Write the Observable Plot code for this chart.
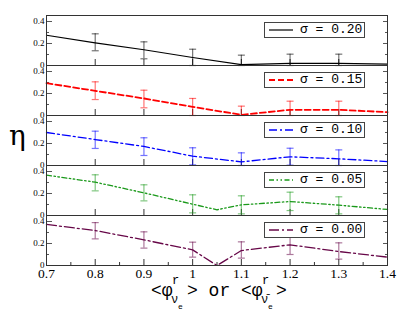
<!DOCTYPE html>
<html><head><meta charset="utf-8">
<script src="https://cdn.jsdelivr.net/npm/d3@7"></script>
<script src="https://cdn.jsdelivr.net/npm/@observablehq/plot@0.6"></script>
<style>
body{margin:0;background:#fff;}
#wrap{position:relative;width:403px;height:312px;overflow:hidden;background:#fff;}
svg.mainplot text{font-family:"Liberation Serif","Times New Roman",serif !important;}
.leg{position:absolute;left:264px;width:99px;height:14px;border:1px solid #444;background:#fff;}
.leg svg{position:absolute;left:0;top:0;}
.leg span{position:absolute;left:35px;top:0px;font:13px "Liberation Mono",monospace;line-height:14px;color:#000;white-space:pre;}
#eta{position:absolute;left:9px;top:119px;font:28px "DejaVu Serif",serif;color:#000;}
#xlab{position:absolute;left:0;top:0;pointer-events:none;}
</style></head><body><div id="wrap"></div>
<script>
const sigmas = ["0.20","0.15","0.10","0.05","0.00"];
const colors = ["#000000","#ff0000","#0000ff","#1a991a","#670748"];
const dashes = [null,"6,3","8,3,2,3","5,2.5,1.5,2.5,1.5,2.5","10,3,2,3"];
const widths = [1.2,1.8,1.3,1.3,1.3];

const xA = [0.7,0.8,0.9,1.0,1.1,1.2,1.3,1.4];
const xB = [0.7,0.8,0.9,1.0,1.05,1.1,1.2,1.3,1.4];

const eta020 = [0.275,0.206,0.143,0.073,0.008,0.02,0.02,0.012];
const eta015 = [0.294,0.224,0.155,0.079,0.006,0.052,0.052,0.03];
const eta010 = [0.30,0.236,0.173,0.085,0.033,0.079,0.061,0.036];
const eta005 = [0.367,0.303,0.206,0.103,0.052,0.097,0.127,0.094,0.055];
const eta000 = [0.373,0.318,0.233,0.142,0.0,0.136,0.188,0.127,0.076];

const errX = [0.8,0.9,1.0,1.1,1.2,1.3];
const hi020 = [0.288,0.215,0.148,0.094,0.103,0.103];
const lo020 = [0.134,0.061,0,0,0,0];
const hi015 = [0.306,0.23,0.155,0.085,0.13,0.13];
const lo015 = [0.145,0.07,0,0,0,0];
const hi010 = [0.312,0.252,0.161,0.115,0.157,0.142];
const lo010 = [0.155,0.091,0.006,0,0.003,0];
const hi005 = [0.37,0.279,0.188,0.179,0.212,0.17];
const lo005 = [0.224,0.133,0.024,0.015,0.045,0.015];
const hi000 = [0.39,0.306,0.212,0.215,0.27,0.206];
const lo000 = [0.242,0.158,0.076,0.067,0.1,0.058];

const xMajor = [0.7,0.8,0.9,1,1.1,1.2,1.3,1.4];
const xMinor = [0.75,0.85,0.95,1.05,1.15,1.25,1.35];
const yMajor = [0,0.2,0.4];
const yTicksMajor = [0.2,0.4];
const yTicksMinor = [0.1,0.3];

const series = [
  {x: xA, eta: eta020, lo: lo020, hi: hi020},
  {x: xA, eta: eta015, lo: lo015, hi: hi015},
  {x: xA, eta: eta010, lo: lo010, hi: hi010},
  {x: xB, eta: eta005, lo: lo005, hi: hi005},
  {x: xB, eta: eta000, lo: lo000, hi: hi000}
];

const capSymbol = {draw(ctx){ ctx.moveTo(-3.5,0); ctx.lineTo(3.5,0); }};
const serif = "Liberation Serif";

const marks = [];
series.forEach((s, i) => {
  const sig = sigmas[i];
  const line = s.x.map((x, j) => ({sigma: sig, x, eta: s.eta[j]}));
  const bars = errX.map((x, j) => ({sigma: sig, x, lo: s.lo[j], hi: s.hi[j]}));
  const caps = bars.flatMap(b => [{sigma: sig, x: b.x, y: b.lo}, {sigma: sig, x: b.x, y: b.hi}]);
  marks.push(Plot.ruleX(bars, {x: "x", y1: "lo", y2: "hi", fy: "sigma", stroke: colors[i], strokeOpacity: 0.55, strokeWidth: 1.2}));
  marks.push(Plot.dot(caps, {x: "x", y: "y", fy: "sigma", symbol: capSymbol, stroke: colors[i], strokeOpacity: 0.55, strokeWidth: 1.2, fill: "none"}));
  marks.push(Plot.line(line, {x: "x", y: "eta", fy: "sigma", stroke: colors[i], strokeWidth: widths[i], strokeDasharray: dashes[i] || undefined}));
});

const chart = Plot.plot({
  width: 403, height: 312,
  marginLeft: 46, marginRight: 16, marginTop: 15, marginBottom: 47,
  x: {domain: [0.7, 1.4]},
  y: {domain: [0, 0.4545]},
  fy: {domain: sigmas, padding: 0, axis: null},
  style: {background: "white", fontFamily: serif, color: "#000"},
  marks: [
    Plot.axisY({ticks: yMajor, tickSize: 0, tickPadding: 2, fontSize: 9, fontFamily: serif, tickFormat: d => d === 0 ? "0" : d.toFixed(1), label: null}),
    Plot.axisY({ticks: yTicksMajor, tickSize: -6, fill: "none", label: null, stroke: "#555"}),
    Plot.axisY({ticks: yTicksMinor, tickSize: -3, fill: "none", label: null, stroke: "#555"}),
    Plot.axisY({anchor: "right", ticks: yTicksMajor, tickSize: -5, fill: "none", label: null, stroke: "#555"}),
    Plot.axisY({anchor: "right", ticks: yTicksMinor, tickSize: -3, fill: "none", label: null, stroke: "#555"}),
    Plot.axisX({ticks: xMajor, tickSize: -6, fill: "none", label: null, facetAnchor: null, stroke: "#333"}),
    Plot.axisX({ticks: xMinor, tickSize: -3, fill: "none", label: null, stroke: "#333"}),
    Plot.axisX({ticks: xMajor, tickSize: 0, tickPadding: 3, fontSize: 13.5, fontFamily: serif, tickFormat: d => d === 1 ? "1" : d.toFixed(1), label: null}),
    ...marks,
    Plot.frame({stroke: "#333"})
  ]
});
chart.classList.add("mainplot");

const wrap = document.getElementById("wrap");
wrap.appendChild(chart);

// legends
sigmas.forEach((sig, i) => {
  const d = document.createElement("div");
  d.className = "leg";
  d.style.top = (22 + i * 50) + "px";
  const dash = dashes[i] ? `stroke-dasharray="${dashes[i]}"` : "";
  d.innerHTML = `<svg width="34" height="14"><line x1="4" x2="28" y1="7" y2="7" stroke="${colors[i]}" stroke-width="${widths[i]}" ${dash}/></svg><span>σ = ${sig}</span>`;
  wrap.appendChild(d);
});

const eta = document.createElement("div");
eta.id = "eta"; eta.textContent = "η";
wrap.appendChild(eta);

const xl = document.createElementNS("http://www.w3.org/2000/svg", "svg");
xl.setAttribute("id", "xlab"); xl.setAttribute("width", 403); xl.setAttribute("height", 312);
xl.innerHTML = `
<g font-family="Liberation Mono, monospace" fill="#000">
<text x="151" y="296" font-size="18">&lt;φ</text>
<text x="172" y="284" font-size="12">r</text>
<text x="171" y="303" font-size="12">ν</text>
<text x="178" y="309" font-size="8">e</text>
<text x="187" y="296" font-size="18" xml:space="preserve">&gt; or &lt;φ</text>
<text x="262" y="284" font-size="12">r</text>
<text x="261" y="303" font-size="12">ν̄</text>
<text x="268" y="309" font-size="8">e</text>
<text x="276" y="296" font-size="18">&gt;</text>
</g>`;
wrap.appendChild(xl);
</script>
</body></html>
